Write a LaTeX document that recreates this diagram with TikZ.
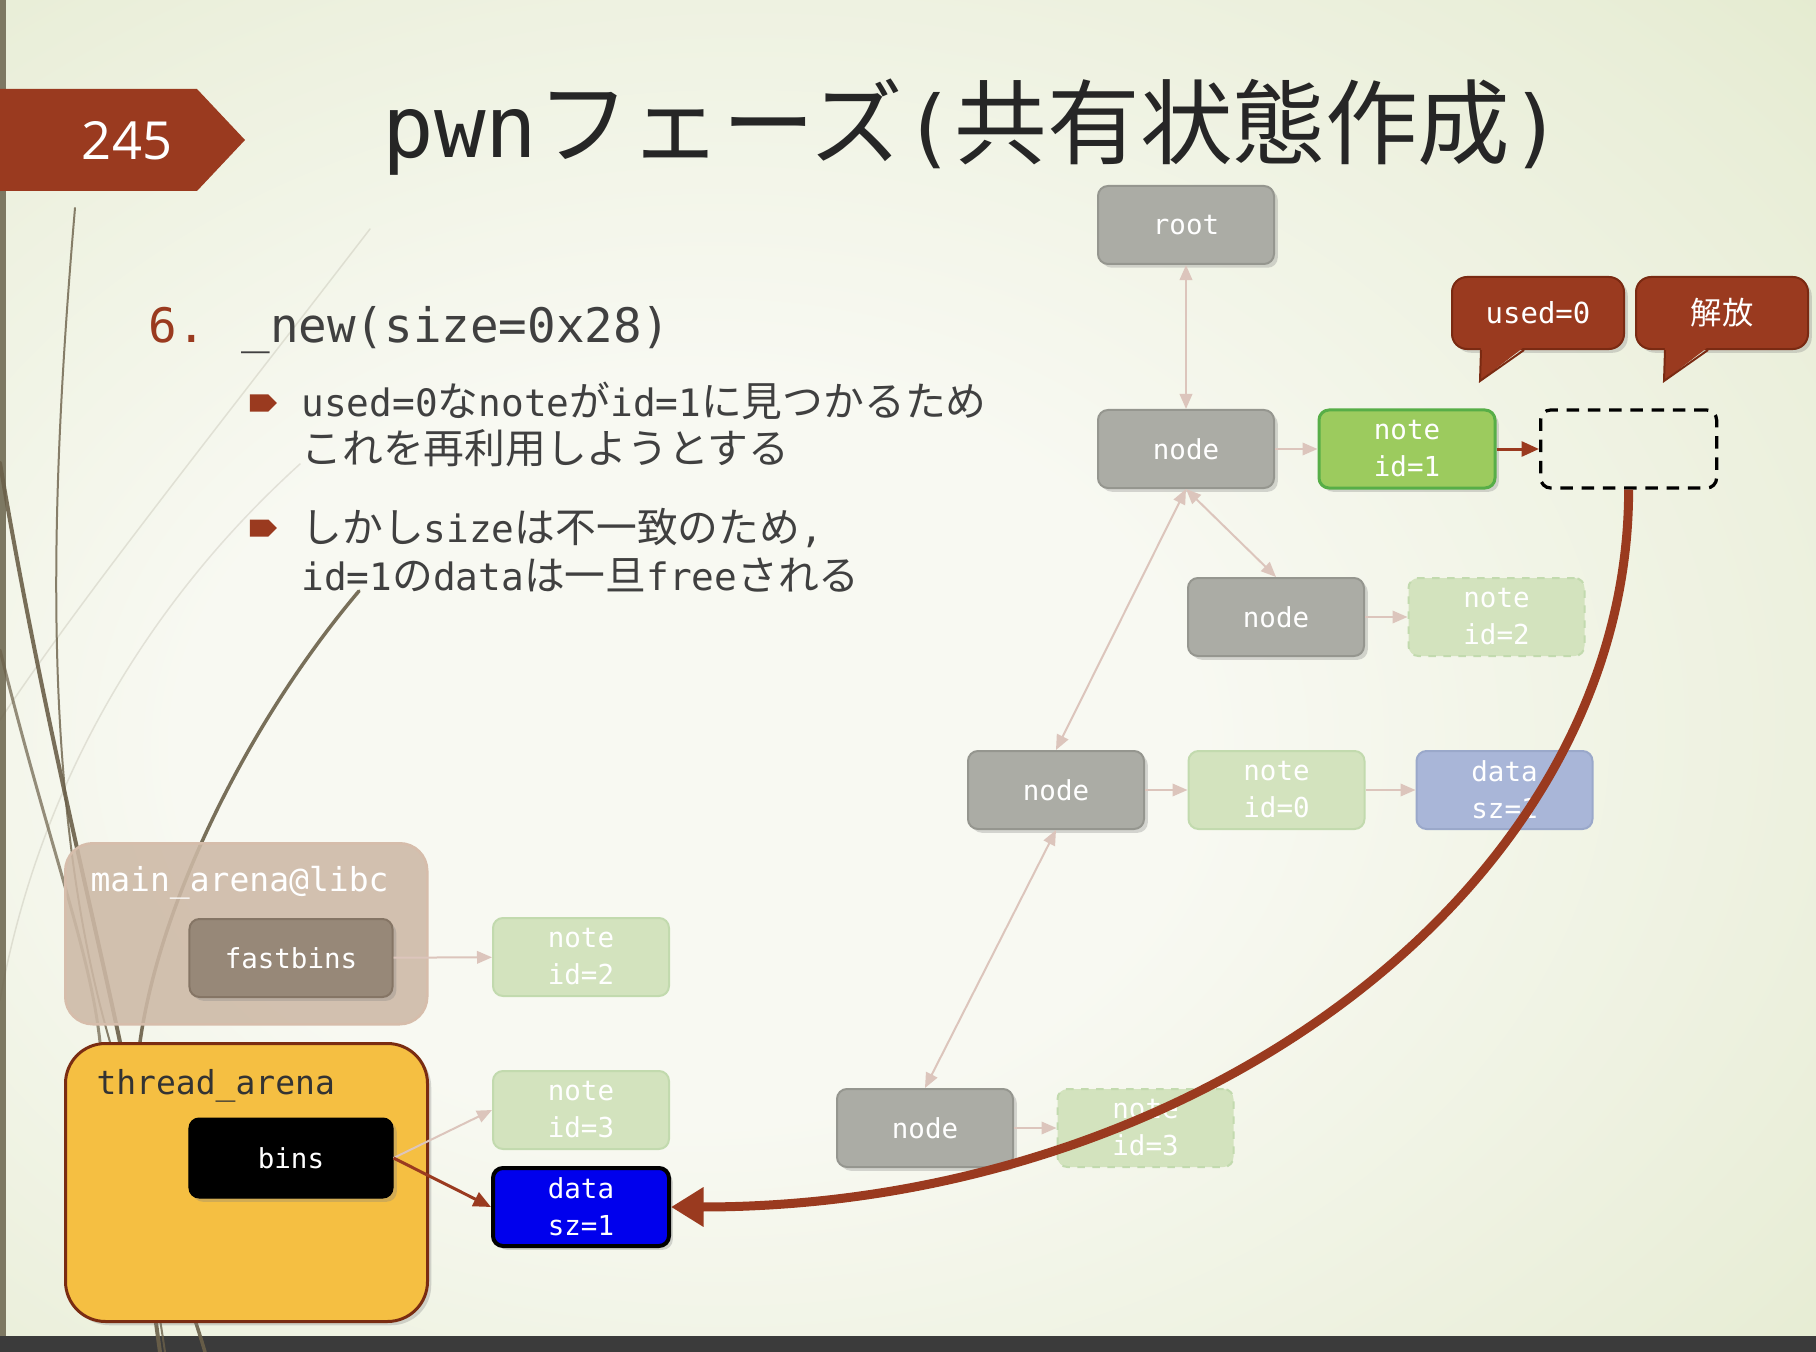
\documentclass[tikz,border=0pt]{standalone}
\usepackage{fontspec}
\setmonofont{DejaVu Sans Mono}
\newfontfamily\jpfont[Scale=1.08]{Noto Sans CJK JP}
\newfontfamily\tagfont{Open Sans}
\newcommand\J[1]{{\jpfont #1}}
\usetikzlibrary{positioning, arrows.meta, calc, shapes.symbols, shadows}

\definecolor{rust}{HTML}{9A3A1F}
\definecolor{rustedge}{HTML}{7A2A12}
\definecolor{nodegray}{HTML}{ABACA5}
\definecolor{nodeedge}{HTML}{95968F}
\definecolor{palegreen}{HTML}{D3E3BE}
\definecolor{paleedge}{HTML}{C2DAAE}
\definecolor{paleblue}{HTML}{A9B6D8}
\definecolor{paleblueedge}{HTML}{9AA8CA}
\definecolor{linkpink}{HTML}{DCC5BC}
\definecolor{textgray}{HTML}{404040}
\definecolor{leafgreen}{HTML}{9CCB5E}
\definecolor{leafedge}{HTML}{57AE47}
\definecolor{arenayellow}{HTML}{F5BF42}
\definecolor{arenaedge}{HTML}{7A2C12}
\definecolor{libcbrown}{HTML}{CDB9A6}
\definecolor{libcedge}{HTML}{D6BDAB}
\definecolor{fastbrown}{HTML}{978878}
\definecolor{fastedge}{HTML}{857565}
\definecolor{grass}{HTML}{6B6049}
\definecolor{sidebar}{HTML}{7D7862}
\definecolor{footbar}{HTML}{3B3B3B}
\definecolor{bgA}{HTML}{F8F9F2}
\definecolor{bgB}{HTML}{E9EED8}
\definecolor{bgC}{HTML}{D2DFAE}

\pgfdeclareradialshading{slidebg}{\pgfpoint{-8bp}{-4bp}}{color(0bp)=(bgA); color(14bp)=(bgA); color(34bp)=(bgB); color(58bp)=(bgC)}

\begin{document}
\begin{tikzpicture}[
    x=0.4pt, y=-0.4pt,
    every node/.style={font=\ttfamily, inner sep=0pt},
    link/.style={-{Triangle[length=6pt,width=5pt]}, line width=0.8pt, draw=linkpink},
    twolink/.style={{Triangle[length=6pt,width=5pt]}-{Triangle[length=6pt,width=5pt]}, line width=0.8pt, draw=linkpink},
    hot/.style={-{Triangle[length=7pt,width=6pt]}, line width=1.2pt, draw=rust},
    bigarrow/.style={-{Triangle[length=13pt,width=15pt]}, line width=3.6pt, draw=rust},
    box/.style={
        rectangle,
        rounded corners=4pt,
        minimum width=70.4pt,
        minimum height=31.2pt,
        align=center,
        text=white,
        font=\ttfamily\fontsize{11}{14.8}\selectfont
    },
    lifted/.style={drop shadow={shadow xshift=1.5pt, shadow yshift=-1.5pt, opacity=0.3}},
    tree/.style={box, fill=nodegray, draw=nodeedge, line width=0.8pt},
    note/.style={box, fill=palegreen, draw=paleedge, line width=0.8pt},
    gone/.style={note, dashed},
    fadedata/.style={box, fill=paleblue, draw=paleblueedge, line width=0.8pt},
    bullet/.style={shape=signal, signal to=east, fill=rust, minimum width=10.8pt, minimum height=6.8pt},
    body/.style={text=textgray, anchor=base west, font=\ttfamily\fontsize{15.1}{18.5}\selectfont},
    bubble/.style={
        rectangle,
        rounded corners=6pt,
        fill=rust,
        draw=rustedge,
        line width=0.8pt,
        minimum width=68.8pt,
        minimum height=28.8pt,
        text=white,
        font=\ttfamily\fontsize{11.6}{14}\selectfont
    },
    arena/.style={rectangle, minimum width=144.8pt, anchor=north west}
]
\useasboundingbox (0,0) rectangle (1816,1352);

\shade[shading=slidebg] (0,0) rectangle (1816,1336);
\fill[sidebar] (0,0) rectangle (6,1336);
\fill[footbar] (0,1336) rectangle (1816,1352);

\begin{scope}[draw=grass, line cap=round]
\draw[line width=0.8pt, opacity=0.8] (75,208) .. controls (50,500) and (40,800) .. (110,1042) .. controls (130,1150) and (150,1250) .. (165,1352);
\draw[line width=1.6pt, opacity=0.9] (0,463) .. controls (40,700) and (90,900) .. (120,1042) .. controls (140,1200) and (150,1280) .. (160,1352);
\draw[line width=1.2pt, opacity=0.7] (0,650) .. controls (50,850) and (90,950) .. (100,1042);
\draw[line width=1.4pt, opacity=0.9] (359,591) .. controls (250,720) and (160,900) .. (140,1042) .. controls (150,1200) and (190,1300) .. (205,1352);
\draw[line width=0.6pt, opacity=0.15] (370,229) .. controls (200,450) and (80,600) .. (0,720);
\draw[line width=0.6pt, opacity=0.15] (300,464) .. controls (150,600) and (40,780) .. (0,1000);
\end{scope}

\fill[rust] (0,89) -- (197,89) -- (245,140) -- (197,191) -- (0,191) -- cycle;
\node[text=white, font=\tagfont\fontsize{21}{21}\selectfont] (page) at (127,141) {245};
\node[anchor=base west, text=black!85, font=\ttfamily\fontsize{34.3}{40}\selectfont] (title) at (382,158) {pwn\J{フェーズ}(\J{共有状態作成})};

\node[body, text=rust, font=\ttfamily\fontsize{19}{22}\selectfont] (step) at (148,343) {6.};
\node[body, font=\ttfamily\fontsize{19}{22}\selectfont] (call) at (241,343) {\_new(size=0x28)};
\node[bullet] (dot1) at (259,403) {};
\node[body] (line1) at (301,417) {used=0\J{な}note\J{が}id=1\J{に見つかるため}};
\node[body] (line2) at (301,463) {\J{これを再利用しようとする}};
\node[bullet] (dot2) at (259,528) {};
\node[body] (line3) at (301,542) {\J{しかし}size\J{は不一致のため},};
\node[body] (line4) at (301,590) {id=1\J{の}data\J{は一旦}free\J{される}};

\node[tree, lifted] (root) at (1186,225) {root};
\node[tree, lifted] (node1) at (1186,449) {node};
\node[box, lifted, fill=leafgreen, draw=leafedge, line width=1.2pt, right=17pt of node1] (note1) {note\\id=1};
\node[box, draw=black, dash pattern=on 5pt off 3.5pt, line width=1.3pt, right=17pt of note1] (dash) {};
\node[tree, lifted] (node2) at (1276,617) {node};
\node[gone, right=17pt of node2] (note2) {note\\id=2};
\node[tree, lifted] (node3) at (1056,790) {node};
\node[note, right=17pt of node3] (note0) {note\\id=0};
\node[fadedata, right=20pt of note0] (data0) {data\\sz=1};
\node[tree, lifted] (node4) at (925,1128) {node};
\node[gone, right=17pt of node4] (note3) {note\\id=3};

\node[bubble, lifted] (used) at (1538,313) {used=0};
\node[bubble, lifted] (free) at (1722,313) {\J{解放}};
\foreach \bub in {used,free} {
    \fill[rust] ($(\bub.south)+(-57,-3)$) -- ($(\bub.south)+(-58,31)$) -- ($(\bub.south)+(-14,-3)$) -- cycle;
    \draw[rustedge, line width=0.8pt] ($(\bub.south)+(-57,0)$) -- ($(\bub.south)+(-58,31)$) -- ($(\bub.south)+(-14,0)$);
}

\node[arena, rounded corners=11pt, fill=libcbrown, draw=libcedge, line width=1pt, fill opacity=0.88, minimum height=72.4pt] (libc) at (64,842) {};
\node[anchor=west, text=white, font=\ttfamily\fontsize{13.2}{16}\selectfont] (libclabel) at (90,883) {main\_arena@libc};
\node[box, lifted, fill=fastbrown, draw=fastedge, line width=0.8pt, minimum width=81.2pt] (fastbins) at (291,958) {fastbins};
\node[note] (note2l) at (581,957) {note\\id=2};

\node[arena, lifted, rounded corners=16pt, fill=arenayellow, draw=arenaedge, line width=1.2pt, minimum height=111.2pt] (thread) at (64,1042) {};
\node[anchor=west, text=black!80, font=\ttfamily\fontsize{13.2}{16}\selectfont] (threadlabel) at (96,1086) {thread\_arena};
\node[box, lifted, fill=black, draw=black, minimum width=81.6pt, minimum height=32pt] (bins) at (291,1158) {bins};
\node[note] (note3l) at (581,1110) {note\\id=3};
\node[box, lifted, fill=blue!93!black, draw=black, line width=1.6pt] (data1) at (581,1207) {data\\sz=1};

\draw[twolink] (root) -- (node1);
\draw[twolink] (node1.south) -- (node2.north);
\draw[twolink] (node1.south) -- (node3.north);
\draw[twolink] (node3.south) -- (node4.north);
\draw[link] (node1) -- (note1);
\draw[link] (node2) -- (note2);
\draw[link] (node3) -- (note0);
\draw[link] (note0) -- (data0);
\draw[link] (node4) -- (note3);
\draw[link] (fastbins) -- (note2l);
\draw[link] (bins.east) -- (note3l.west);
\draw[hot] (bins.east) -- (data1.west);
\draw[hot] (note1) -- (dash);
\draw[bigarrow] (dash.south) .. controls +(0,397) and +(525,0) .. (data1.east);

\end{tikzpicture}
\end{document}
